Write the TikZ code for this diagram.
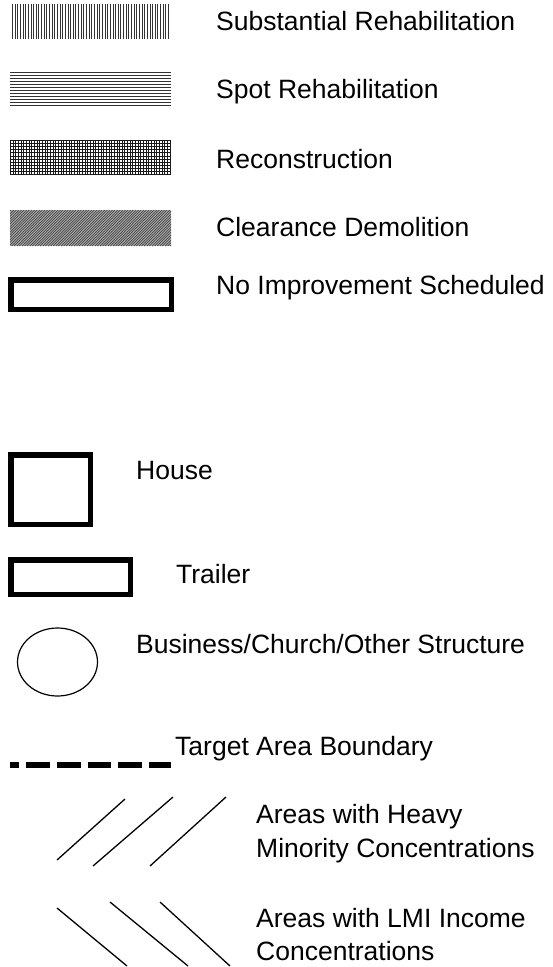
\documentclass[tikz,border=0pt]{standalone}
\usepackage{fontspec}
\setmainfont{Liberation Sans}
\begin{document}
\begin{tikzpicture}[x=1pt,y=-1pt,
  lbl/.style={anchor=base west,inner sep=0pt,font=\fontsize{26.5}{34}\selectfont},
  thickbox/.style={draw=black,line width=5.5pt},
  hatchline/.style={line width=1pt,draw=black!80},
  diag/.style={line width=1.3pt,draw=black}]
\useasboundingbox (0,0) rectangle (552,967);
% Substantial Rehabilitation: vertical lines
\foreach \i in {0,...,59} {
  \draw[hatchline] ({12.5+\i*2.645},4) -- ({12.5+\i*2.645},39);
}
% Spot Rehabilitation: horizontal lines
\foreach \i in {0,...,11} {
  \draw[hatchline] (10,{72.5+\i*3.0}) -- (171,{72.5+\i*3.0});
}
% Reconstruction: grid
\foreach \i in {0,...,60} {
  \draw[line width=0.8pt,draw=black!90] ({10.5+\i*2.66},140) -- ({10.5+\i*2.66},175);
}
\foreach \i in {0,...,11} {
  \draw[line width=0.8pt,draw=black!90] (10,{140.5+\i*3.09}) -- (171,{140.5+\i*3.09});
}
% Clearance Demolition: fine diagonal hatch
\begin{scope}
  \clip (10,210) rectangle (171,246);
  \fill[black!30] (10,210) rectangle (171,246);
  \foreach \i in {0,...,80} {
    \draw[line width=0.7pt,draw=black!75] ({-30+\i*2.6},246) -- ({6+\i*2.6},210);
  }
\end{scope}
% No Improvement Scheduled box
\draw[thickbox] (10.75,279.75) rectangle (171.25,309.25);
% House
\draw[thickbox] (10.75,454.75) rectangle (90.25,524.25);
% Trailer
\draw[thickbox] (10.75,559.75) rectangle (130.25,594.25);
% Business ellipse
\draw[line width=1.2pt] (57.5,662) ellipse [x radius=40,y radius=34];
% Target area boundary
\foreach \a/\b in {10/19,26/50,57/81,88/111,118/142,149/171} {
  \draw[line width=5.3pt] (\a,765) -- (\b,765);
}
% Minority lines
\draw[diag] (57,860) -- (125,799);
\draw[diag] (93,866) -- (173,797);
\draw[diag] (150,866) -- (226,797);
% LMI lines
\draw[diag] (57,908) -- (127,966);
\draw[diag] (110,902) -- (188,966);
\draw[diag] (160,902) -- (230,966);
% Labels
\node[lbl] (t1) at (216,30) {Substantial Rehabilitation};
\node[lbl] (t2) at (216,98) {Spot Rehabilitation};
\node[lbl] (t3) at (216,168) {Reconstruction};
\node[lbl] (t4) at (216,236) {Clearance Demolition};
\node[lbl] (t5) at (216,294) {No Improvement Scheduled};
\node[lbl] (t6) at (136,479) {House};
\node[lbl] (t7) at (176,583) {Trailer};
\node[lbl] (t8) at (136,653) {Business/Church/Other Structure};
\node[lbl] (t9) at (175,755) {Target Area Boundary};
\node[lbl] (t10) at (256,823) {Areas with Heavy};
\node[lbl] (t11) at (256,857) {Minority Concentrations};
\node[lbl] (t12) at (256,927) {Areas with LMI Income};
\node[lbl] (t13) at (256,960) {Concentrations};
\end{tikzpicture}
\end{document}
